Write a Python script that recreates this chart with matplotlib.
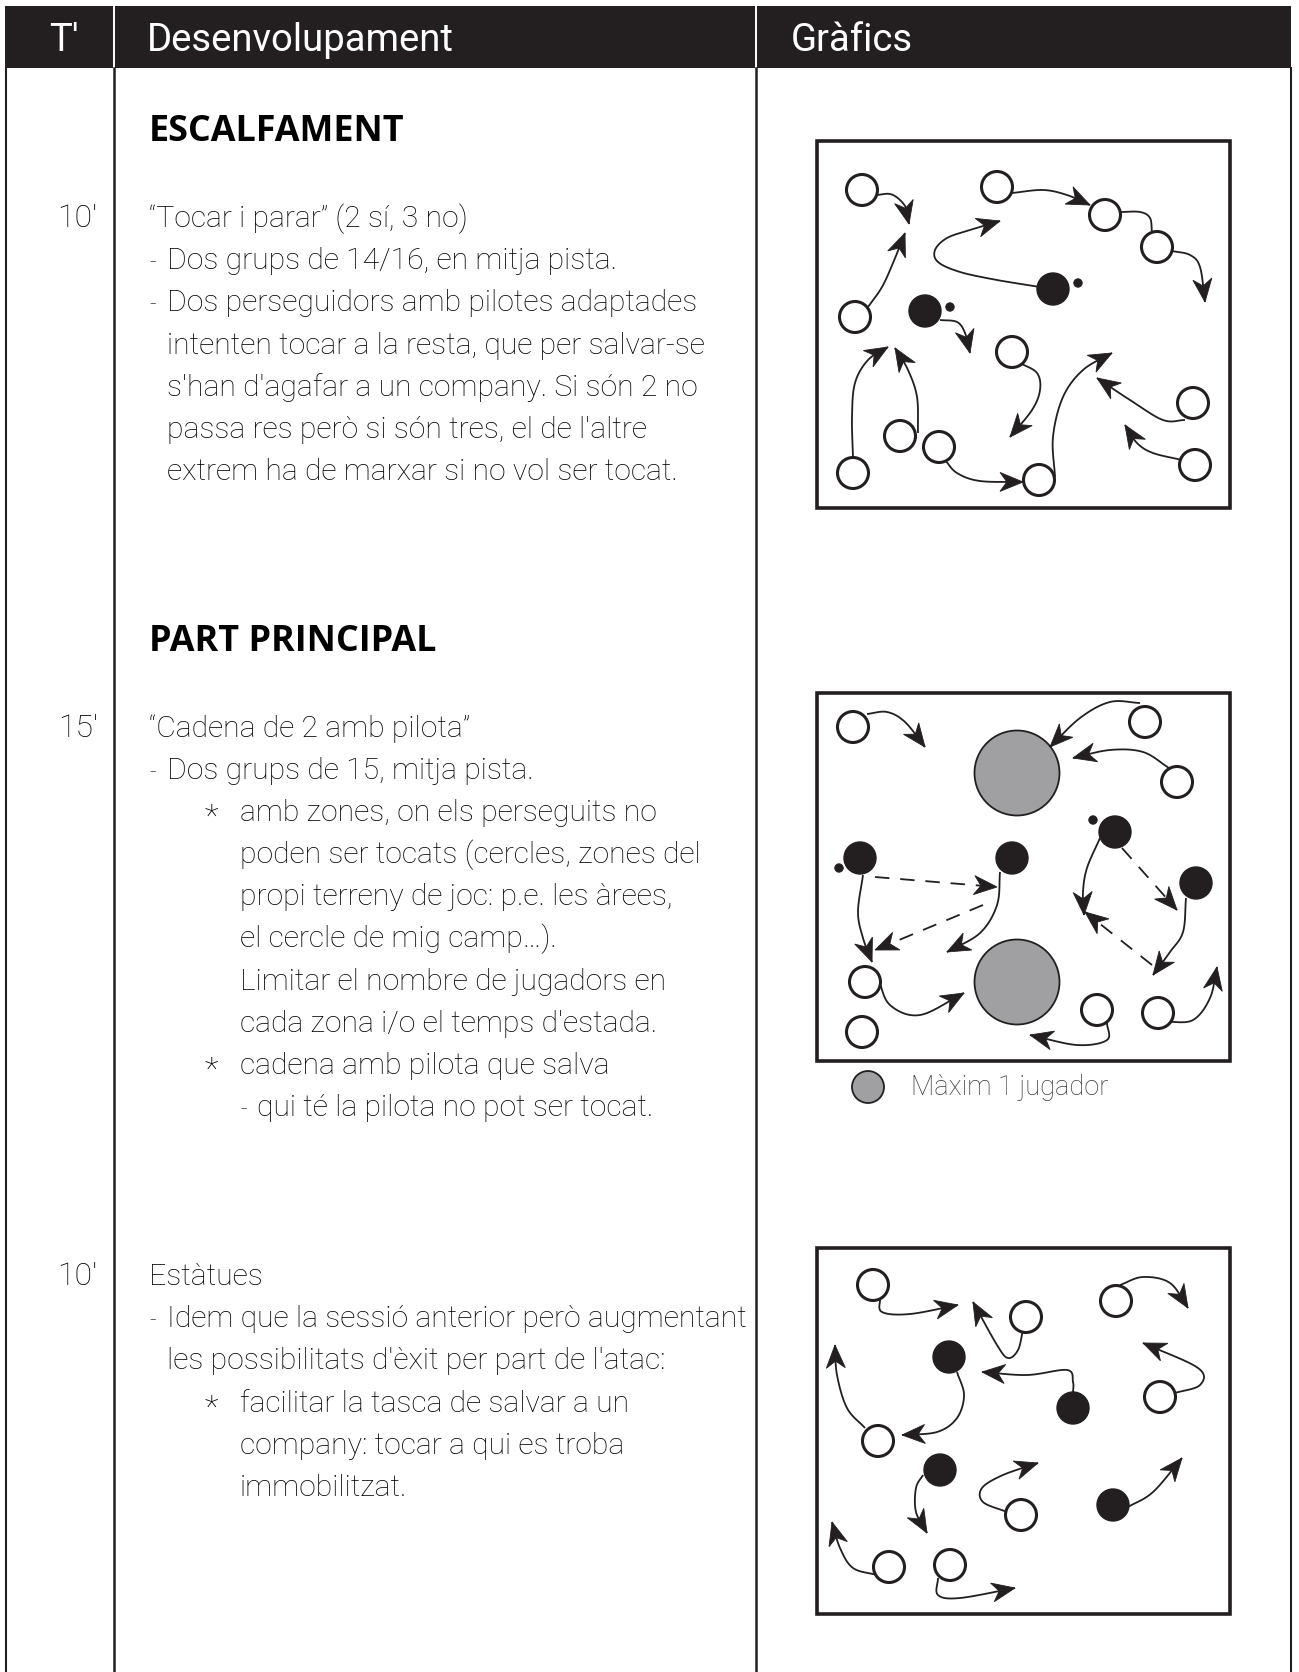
import matplotlib.pyplot as plt
import numpy as np
from matplotlib.patches import Circle, Polygon, Rectangle

INK = '#231f20'
GREY = '#a0a0a2'
BODY = ['Roboto', 'DejaVu Sans']
BOLD = ['Open Sans', 'DejaVu Sans']

# ---- text content ----
header_labels = ['T\u2032', 'Desenvolupament', 'Gr\u00e0fics']
section_titles = ['ESCALFAMENT', 'PART PRINCIPAL']
durations = ["10'", "15'", "10'"]

# (marker, indent level, text)
block1 = [
    ('', 0, '\u201cTocar i parar\u201d (2 s\u00ed, 3 no)'),
    ('-', 1, 'Dos grups de 14/16, en mitja pista.'),
    ('-', 1, 'Dos perseguidors amb pilotes adaptades'),
    ('', 1, 'intenten tocar a la resta, que per salvar-se'),
    ('', 1, "s'han d'agafar a un company. Si s\u00f3n 2 no"),
    ('', 1, "passa res per\u00f2 si s\u00f3n tres, el de l'altre"),
    ('', 1, 'extrem ha de marxar si no vol ser tocat.'),
]
block2 = [
    ('', 0, '\u201cCadena de 2 amb pilota\u201d'),
    ('-', 1, 'Dos grups de 15, mitja pista.'),
    ('*', 2, 'amb zones, on els perseguits no'),
    ('', 2, 'poden ser tocats (cercles, zones del'),
    ('', 2, 'propi terreny de joc: p.e. les \u00e0rees,'),
    ('', 2, 'el cercle de mig camp\u2026).'),
    ('', 2, 'Limitar el nombre de jugadors en'),
    ('', 2, "cada zona i/o el temps d'estada."),
    ('*', 2, 'cadena amb pilota que salva'),
    ('-', 3, 'qui t\u00e9 la pilota no pot ser tocat.'),
]
block3 = [
    ('', 0, 'Est\u00e0tues'),
    ('-', 1, "Idem que la sessi\u00f3 anterior per\u00f2 augmentant"),
    ('', 1, "les possibilitats d'\u00e8xit per part de l'atac:"),
    ('*', 2, 'facilitar la tasca de salvar a un'),
    ('', 2, 'company: tocar a qui es troba'),
    ('', 2, 'immobilitzat.'),
]
legend_label = 'M\u00e0xim 1 jugador'

# ---- diagram 1: "Tocar i parar" ----
open1 = [(862, 190), (997, 187), (1105, 215), (1157, 247), (855, 317), (1012, 352),
         (1193, 403), (900, 436), (939, 447), (853, 473), (1039, 480), (1195, 465)]
filled1 = [(1053, 289), (925, 311)]
balls1 = [(1078, 283), (950, 307)]
arrows1 = [
    [(877, 195), (890, 194), (900, 200), (907, 210), (909, 224)],
    [(868, 307), (882, 287), (893, 263), (905, 233)],
    [(1040, 287), (997, 280), (960, 272), (938, 262), (935, 250), (947, 238), (970, 230), (1000, 221)],
    [(1012, 193), (1043, 190), (1067, 195), (1090, 205)],
    [(1172, 251), (1190, 255), (1200, 267), (1205, 302)],
    [(940, 320), (957, 322), (965, 333), (970, 353)],
    [(1020, 363), (1037, 373), (1040, 390), (1032, 410), (1010, 437)],
    [(853, 458), (852, 417), (855, 383), (868, 360), (888, 347)],
    [(918, 433), (917, 397), (908, 370), (895, 348)],
    [(945, 460), (957, 473), (980, 481), (1023, 482)],
    [(1055, 477), (1053, 437), (1063, 397), (1083, 370), (1112, 353)],
    [(1185, 420), (1163, 420), (1130, 400), (1097, 378)],
    [(1182, 460), (1153, 453), (1137, 443), (1125, 425)],
]
links1 = [[(1120, 212), (1140, 212), (1150, 218), (1152, 233)]]

# ---- diagram 2: "Cadena de 2 amb pilota" ----
zones2 = [(1017, 773), (1017, 982)]
open2 = [(853, 727), (1145, 722), (1177, 782), (865, 982), (862, 1032), (1097, 1010), (1158, 1013)]
filled2 = [(860, 858), (1012, 858), (1115, 832), (1196, 883)]
balls2 = [(839, 868), (1093, 820)]
arrows2 = [
    [(867, 714), (887, 712), (905, 722), (925, 747)],
    [(1140, 703), (1110, 702), (1080, 718), (1050, 747)],
    [(1169, 768), (1143, 752), (1110, 750), (1073, 758)],
    [(863, 875), (858, 912), (863, 938), (872, 962)],
    [(1000, 872), (997, 905), (980, 933), (947, 952)],
    [(878, 978), (890, 1005), (920, 1015), (964, 993)],
    [(1107, 1023), (1107, 1040), (1077, 1045), (1030, 1035)],
    [(1167, 1022), (1193, 1020), (1210, 998), (1217, 967)],
    [(1100, 838), (1087, 868), (1083, 892), (1084, 915)],
    [(1186, 898), (1183, 932), (1170, 952), (1153, 975)],
]
passes2 = [
    [(875, 877), (997, 887)],
    [(983, 905), (875, 950)],
    [(1122, 848), (1177, 910)],
    [(1152, 965), (1085, 912)],
]

# ---- diagram 3: "Estatues" ----
open3 = [(873, 1285), (1026, 1317), (1116, 1301), (1160, 1397), (878, 1441),
         (1021, 1515), (889, 1567), (950, 1565)]
filled3 = [(949, 1357), (1073, 1408), (940, 1470), (1113, 1505)]
arrows3 = [
    [(880, 1298), (882, 1312), (910, 1314), (958, 1305)],
    [(1023, 1330), (1018, 1350), (1008, 1358), (997, 1345), (973, 1302)],
    [(1120, 1285), (1143, 1277), (1170, 1283), (1188, 1308)],
    [(1175, 1393), (1200, 1385), (1198, 1368), (1143, 1343)],
    [(957, 1372), (964, 1395), (957, 1418), (937, 1432), (902, 1435)],
    [(865, 1428), (847, 1408), (837, 1375), (835, 1345)],
    [(1073, 1393), (1073, 1382), (1067, 1370), (1027, 1375), (982, 1372)],
    [(923, 1475), (916, 1488), (916, 1512), (927, 1533)],
    [(1007, 1512), (983, 1502), (982, 1488), (1003, 1475), (1038, 1463)],
    [(1128, 1507), (1153, 1492), (1182, 1458)],
    [(877, 1575), (853, 1568), (840, 1548), (832, 1522)],
    [(938, 1578), (938, 1595), (960, 1598), (1015, 1588)],
]


def spline(pts, n=24):
    P = np.array(pts, float)
    if len(P) == 2:
        return P
    P = np.vstack([2 * P[0] - P[1], P, 2 * P[-1] - P[-2]])
    out = []
    t = np.linspace(0, 1, n, endpoint=False)[:, None]
    for i in range(1, len(P) - 2):
        p0, p1, p2, p3 = P[i - 1], P[i], P[i + 1], P[i + 2]
        out.append(0.5 * (2 * p1 + (p2 - p0) * t + (2 * p0 - 5 * p1 + 4 * p2 - p3) * t ** 2
                          + (3 * p1 - p0 - 3 * p2 + p3) * t ** 3))
    out.append(P[-2][None, :])
    return np.vstack(out)


def head(ax, curve, L=23, W=9.5):
    rev = curve[::-1]
    tip = rev[0]
    d = np.r_[0, np.cumsum(np.hypot(*np.diff(rev, axis=0).T))]
    k = min(np.searchsorted(d, L * 0.8), len(rev) - 1)
    u = tip - rev[k]
    u = u / np.hypot(*u)
    nv = np.array([-u[1], u[0]])
    poly = [tip, tip - L * u + W * nv, tip - 0.7 * L * u, tip - L * u - W * nv]
    ax.add_patch(Polygon(poly, closed=True, fc=INK, ec=INK, lw=0.6, zorder=5))


def arrow(ax, pts, dashed=False, tip=True):
    c = spline(pts)
    ls = (0, (8, 6)) if dashed else '-'
    ax.plot(c[:, 0], c[:, 1], color=INK, lw=1.3, ls=ls, solid_capstyle='butt', zorder=4)
    if tip:
        if dashed:
            a, b = np.array(pts[0], float), np.array(pts[-1], float)
            c = np.vstack([a + (b - a) * s for s in np.linspace(0, 1, 20)])
        head(ax, c)


def players(ax, opens, filled, balls=()):
    for x, y in opens:
        ax.add_patch(Circle((x, y), 15.5, fc='white', ec=INK, lw=2.2, zorder=6))
    for x, y in filled:
        ax.add_patch(Circle((x, y), 16, fc=INK, ec=INK, lw=1, zorder=6))
    for x, y in balls:
        ax.add_patch(Circle((x, y), 4.3, fc=INK, ec=INK, lw=0.5, zorder=6))


def text_block(ax, lines, y0, step=42.2):
    xs = {0: 149, 1: 167, 2: 240, 3: 257}
    mx = {'-': {1: 149, 3: 240}, '*': {2: 205}}
    for i, (mark, lvl, s) in enumerate(lines):
        y = y0 + i * step
        if mark:
            ax.text(mx[mark][lvl], y + (5 if mark == '*' else 0), mark, family=BODY, weight='light',
                    fontsize=23 if mark == '*' else 16, color='black', va='baseline')
        ax.text(xs[lvl], y, s, family=BODY, weight='light', fontsize=21.7, color='black', va='baseline')


fig = plt.figure(figsize=(12.99, 16.72), dpi=100)
ax = fig.add_axes([0, 0, 1, 1])
ax.set_xlim(0, 1299)
ax.set_ylim(1672, 0)
ax.axis('off')

# table frame
ax.add_patch(Rectangle((5, 6), 1286, 62, fc=INK, ec='none', zorder=1))
for x in (114, 756):
    ax.plot([x, x], [6, 68], color='white', lw=1.4, zorder=2)
    ax.plot([x, x], [68, 1672], color=INK, lw=1.8, zorder=2)
for x in (6, 1291):
    ax.plot([x, x], [68, 1672], color=INK, lw=1.5, zorder=2)

hx = [(64, 'center'), (147, 'left'), (791, 'left')]
for (x, ha), s in zip(hx, header_labels):
    ax.text(x, 51, s, color='white', family=BODY, fontsize=27.5, ha=ha, va='baseline')

for s, y in zip(section_titles, (141, 651)):
    ax.text(149, y, s, family=BOLD, weight='bold', fontsize=25.8, color='black', va='baseline')

for s, y in zip(durations, (227, 737, 1285)):
    ax.text(98, y, s, family=BODY, weight='light', fontsize=23, color='black', ha='right', va='baseline')

text_block(ax, block1, 227)
text_block(ax, block2, 737, 42.1)
text_block(ax, block3, 1285)

# diagram boxes
for y0, y1 in ((141, 508), (693, 1061), (1248, 1614)):
    ax.add_patch(Rectangle((817, y0), 413, y1 - y0, fc='white', ec=INK, lw=2.6, zorder=3))

for x, y in zones2:
    ax.add_patch(Circle((x, y), 42.5, fc=GREY, ec=INK, lw=1.3, zorder=4))

players(ax, open1, filled1, balls1)
for p in arrows1:
    arrow(ax, p)
for p in links1:
    arrow(ax, p, tip=False)

players(ax, open2, filled2, balls2)
for p in arrows2:
    arrow(ax, p)
for p in passes2:
    arrow(ax, p, dashed=True)

players(ax, open3, filled3)
for p in arrows3:
    arrow(ax, p)

# legend
ax.add_patch(Circle((868, 1087), 16, fc=GREY, ec=INK, lw=1.3, zorder=4))
ax.text(911, 1095, legend_label, family=BODY, weight='light', fontsize=19.5, color='#3a3a3c', va='baseline')

fig.savefig('out.png', dpi=100)
